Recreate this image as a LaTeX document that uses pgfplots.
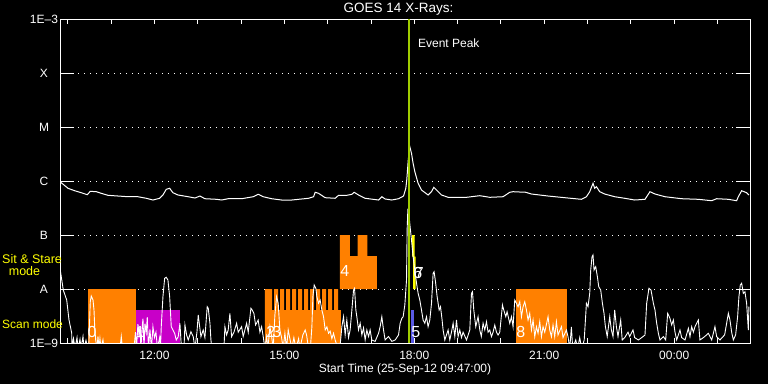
\documentclass[border=0pt]{standalone}
\usepackage{fontspec}
\setmainfont{Liberation Sans}
\usepackage{pgfplots}
\pgfplotsset{compat=1.18}
\definecolor{iorange}{RGB}{255,128,0}
\definecolor{imag}{RGB}{200,0,200}
\definecolor{iblue}{RGB}{90,90,230}
\definecolor{iyellow}{RGB}{255,255,0}
\definecolor{igreen}{RGB}{160,205,0}
\begin{document}
\begin{tikzpicture}
\fill[black] (0pt,0pt) rectangle (768pt,384pt);
\useasboundingbox (0pt,0pt) rectangle (768pt,384pt);
\begin{axis}[
  at={(60pt,41pt)}, anchor=south west, scale only axis,
  width=690pt, height=324pt,
  xmin=9.819, xmax=25.751, ymin=-9, ymax=-3,
  axis line style={white, line width=1pt},
  /pgf/number format/assume math mode=true,
  font=\fontsize{12}{14}\selectfont,
  ytick={-9,-8,-7,-6,-5,-4,-3},
  yticklabels={1E--9,A,B,C,M,X,1E--3},
  ytick style={/pgfplots/major tick length=14pt},
  ymajorgrids=true,
  major grid style={white, line width=1pt, dash pattern=on 1pt off 5pt},
  xtick={10,11,12,13,14,15,16,17,18,19,20,21,22,23,24,25},
  xticklabels={,,12:00,,,15:00,,,18:00,,,21:00,,,00:00,},
  xtick style={/pgfplots/major tick length=5pt},
  major tick length=5pt,
  tick style={white, line width=1pt},
  tick align=inside,
  xticklabel style={white, anchor=center, yshift=-12pt},
  yticklabel style={white, anchor=center, xshift=-16pt},
]
% observation blocks
\addplot[fill=iorange, draw=none] coordinates {(10.465,-9) (10.465,-8) (11.566,-8) (11.566,-9)};
\addplot[fill=imag, draw=none] coordinates {(11.566,-9) (11.566,-8.389) (12.588,-8.389) (12.588,-9)};
\addplot[fill=iorange, draw=none] coordinates {(14.550,-9) (14.550,-8) (14.719,-8) (14.719,-8.389) (14.765,-8.389) (14.765,-8) (14.857,-8) (14.857,-8.389) (14.903,-8.389) (14.903,-8) (14.996,-8) (14.996,-8.389) (15.042,-8.389) (15.042,-8) (15.134,-8) (15.134,-8.389) (15.180,-8.389) (15.180,-8) (15.272,-8) (15.272,-8.389) (15.318,-8.389) (15.318,-8) (15.411,-8) (15.411,-8.389) (15.457,-8.389) (15.457,-8) (15.549,-8) (15.549,-8.389) (15.595,-8.389) (15.595,-8) (15.688,-8) (15.688,-8.389) (15.734,-8.389) (15.734,-8) (15.826,-8) (15.826,-8.389) (15.872,-8.389) (15.872,-8) (15.964,-8) (15.964,-8.389) (16.010,-8.389) (16.010,-8) (16.103,-8) (16.103,-8.389) (16.149,-8.389) (16.149,-8) (16.241,-8) (16.241,-8.389) (16.303,-8.389) (16.303,-9)};
\addplot[fill=iorange, draw=none] coordinates {(16.281,-8) (16.281,-7) (16.511,-7) (16.511,-7.389) (16.689,-7.389) (16.689,-7) (16.919,-7) (16.919,-7.389) (17.135,-7.389) (17.135,-8)};
\addplot[fill=iblue, draw=none] coordinates {(17.919,-9) (17.919,-8.389) (17.989,-8.389) (17.989,-9)};
\addplot[fill=iyellow, draw=none] coordinates {(17.949,-7) (18.005,-7) (18.005,-7.4) (18.028,-7.4) (18.028,-8) (17.972,-8) (17.972,-7.4) (17.949,-7.4)};
\addplot[fill=iorange, draw=none] coordinates {(20.342,-9) (20.342,-8) (21.535,-8) (21.535,-9)};
% long channel (1-8 A)
\addplot[white, line width=1pt] coordinates {
(9.819,-6.013) (10.004,-6.135) (10.158,-6.180) (10.311,-6.217) (10.449,-6.254) (10.518,-6.191) (10.657,-6.198) (10.772,-6.228) (10.927,-6.265) (11.158,-6.278) (11.389,-6.291) (11.619,-6.291) (11.811,-6.320) (11.965,-6.352) (12.120,-6.320) (12.196,-6.259) (12.272,-6.154) (12.351,-6.135) (12.427,-6.217) (12.542,-6.259) (12.780,-6.291) (12.935,-6.315) (13.050,-6.278) (13.165,-6.328) (13.435,-6.339) (13.551,-6.352) (13.703,-6.328) (14.012,-6.328) (14.280,-6.291) (14.395,-6.246) (14.511,-6.291) (14.705,-6.328) (14.935,-6.352) (15.173,-6.352) (15.328,-6.339) (15.558,-6.320) (15.674,-6.291) (15.711,-6.209) (15.789,-6.228) (15.942,-6.309) (16.172,-6.320) (16.251,-6.265) (16.442,-6.265) (16.558,-6.246) (16.611,-6.209) (16.712,-6.259) (16.865,-6.320) (17.174,-6.352) (17.250,-6.291) (17.326,-6.333) (17.481,-6.352) (17.635,-6.328) (17.751,-6.278) (17.804,-6.135) (17.827,-5.969) (17.861,-5.600) (17.896,-5.365) (17.935,-5.487) (17.972,-5.672) (18.012,-5.828) (18.088,-6.043) (18.166,-6.167) (18.318,-6.259) (18.397,-6.198) (18.450,-6.117) (18.512,-6.167) (18.628,-6.259) (18.780,-6.302) (19.205,-6.302) (19.512,-6.272) (19.742,-6.302) (20.049,-6.291) (20.204,-6.209) (20.280,-6.198) (20.435,-6.204) (20.550,-6.204) (20.705,-6.241) (21.088,-6.278) (21.549,-6.315) (21.858,-6.339) (21.974,-6.291) (22.050,-6.198) (22.126,-6.043) (22.165,-6.135) (22.205,-6.106) (22.281,-6.198) (22.396,-6.241) (22.627,-6.291) (22.858,-6.320) (23.088,-6.352) (23.326,-6.339) (23.441,-6.198) (23.557,-6.241) (23.788,-6.291) (24.173,-6.328) (24.558,-6.339) (24.865,-6.365) (24.981,-6.328) (25.251,-6.339) (25.442,-6.365) (25.481,-6.291) (25.558,-6.180) (25.673,-6.217) (25.726,-6.259)
};
% short channel (0.5-4 A)
\addplot[white, line width=0.9pt] coordinates {
(9.819,-7.617) (9.895,-8.019) (9.974,-8.204) (10.027,-8.574) (10.089,-8.815) (10.096,-9.1) (10.131,-8.92) (10.165,-9.1) (10.212,-8.90) (10.235,-9.1) (10.281,-8.93) (10.304,-9.1) (10.350,-8.88) (10.373,-9.1) (10.419,-8.95) (10.465,-9.1) (10.482,-9.1) (10.518,-8.235) (10.541,-8.13) (10.581,-8.204) (10.604,-8.389) (10.620,-8.698) (10.643,-8.944) (10.673,-9.1) (10.696,-8.88) (10.719,-9.1) (10.742,-8.92) (10.765,-9.1) (10.811,-8.94) (10.834,-9.1) (11.204,-9.1) (11.234,-8.88) (11.262,-9.1) (11.527,-9.1) (11.562,-8.80) (11.585,-9.1) (11.619,-8.65) (11.642,-8.85) (11.665,-8.70) (11.688,-9.1) (11.712,-8.75) (11.735,-8.55) (11.758,-9.1) (11.781,-8.64) (11.811,-8.80) (11.834,-8.52) (11.862,-9.1) (11.896,-8.75) (11.931,-9.1) (11.965,-8.70) (12.000,-8.90) (12.035,-8.80) (12.069,-9.1) (12.120,-8.90) (12.139,-9.1) (12.157,-8.698) (12.196,-8.143) (12.235,-7.802) (12.272,-7.783) (12.311,-7.833) (12.351,-8.143) (12.388,-8.698) (12.466,-8.820) (12.503,-8.944) (12.549,-8.883) (12.588,-8.635) (12.623,-9.1) (12.681,-9.1) (12.704,-8.667) (12.743,-8.852) (12.780,-8.944) (12.842,-8.791) (12.895,-8.883) (12.935,-9.1) (12.981,-8.80) (13.011,-8.481) (13.034,-8.635) (13.073,-8.883) (13.126,-8.759) (13.165,-8.90) (13.218,-8.328) (13.242,-8.357) (13.281,-8.635) (13.304,-8.944) (13.327,-9.1) (13.604,-9.1) (13.627,-8.698) (13.666,-8.85) (13.703,-8.759) (13.742,-8.450) (13.781,-8.883) (13.835,-8.80) (13.897,-8.635) (13.934,-8.80) (14.012,-8.698) (14.049,-8.88) (14.128,-8.635) (14.165,-8.80) (14.227,-8.357) (14.257,-8.389) (14.296,-8.450) (14.335,-8.667) (14.395,-8.574) (14.435,-8.80) (14.474,-8.698) (14.511,-8.88) (14.550,-9.1) (14.589,-8.883) (14.620,-9.1) (14.666,-8.698) (14.705,-8.88) (14.742,-9.1) (14.781,-8.481) (14.820,-8.143) (14.857,-8.265) (14.896,-8.759) (14.935,-8.90) (14.972,-9.1) (15.012,-8.820) (15.050,-9.1) (15.088,-8.759) (15.127,-8.92) (15.173,-9.1) (15.219,-8.90) (15.265,-9.1) (15.328,-8.92) (15.358,-9.1) (15.427,-8.85) (15.480,-8.759) (15.512,-8.85) (15.558,-9.1) (15.600,-9.1) (15.635,-8.698) (15.658,-8.143) (15.688,-7.926) (15.727,-7.987) (15.750,-8.143) (15.789,-8.265) (15.826,-8.204) (15.865,-8.389) (15.904,-8.513) (15.943,-8.759) (15.981,-8.70) (16.020,-8.820) (16.057,-8.78) (16.096,-8.92) (16.135,-8.82) (16.172,-8.944) (16.234,-9.1) (16.281,-9.1) (16.327,-8.698) (16.366,-8.513) (16.403,-8.85) (16.442,-8.574) (16.481,-8.90) (16.518,-8.759) (16.558,-8.389) (16.597,-8.019) (16.620,-7.987) (16.650,-8.389) (16.673,-8.513) (16.712,-8.759) (16.750,-8.635) (16.789,-8.85) (16.828,-8.72) (16.865,-8.944) (16.904,-8.759) (16.943,-8.88) (16.980,-8.759) (17.019,-8.944) (17.095,-8.97) (17.174,-8.820) (17.211,-8.698) (17.250,-8.513) (17.289,-8.759) (17.326,-8.944) (17.404,-8.88) (17.481,-8.97) (17.557,-8.944) (17.635,-8.852) (17.673,-8.635) (17.712,-8.543) (17.742,-8.513) (17.781,-8.296) (17.820,-7.833) (17.834,-6.90) (17.850,-6.55) (17.873,-6.60) (17.903,-6.85) (17.935,-7.093) (17.972,-7.402) (18.012,-7.648) (18.051,-7.894) (18.088,-8.080) (18.127,-8.204) (18.166,-8.389) (18.203,-8.574) (18.242,-8.635) (18.281,-8.513) (18.318,-8.698) (18.358,-8.574) (18.397,-8.265) (18.434,-7.709) (18.457,-7.680) (18.489,-7.865) (18.527,-8.143) (18.573,-8.389) (18.605,-8.328) (18.642,-8.574) (18.665,-8.759) (18.704,-8.944) (18.743,-8.85) (18.780,-8.759) (18.819,-8.944) (18.858,-8.80) (18.896,-8.635) (18.935,-8.88) (18.974,-8.574) (19.011,-8.883) (19.050,-8.759) (19.089,-8.90) (19.126,-8.80) (19.205,-8.944) (19.281,-8.759) (19.320,-8.080) (19.343,-8.050) (19.373,-8.389) (19.419,-8.698) (19.472,-8.513) (19.512,-8.759) (19.547,-8.88) (19.588,-8.635) (19.627,-8.759) (19.666,-8.606) (19.703,-8.80) (19.742,-8.759) (19.781,-8.883) (19.818,-8.80) (19.858,-8.667) (19.897,-8.80) (19.934,-8.852) (19.973,-8.80) (20.035,-8.296) (20.065,-8.389) (20.112,-8.513) (20.142,-8.420) (20.204,-8.635) (20.243,-8.513) (20.280,-8.698) (20.319,-8.204) (20.358,-8.265) (20.395,-8.328) (20.435,-8.235) (20.474,-8.513) (20.511,-8.328) (20.550,-8.235) (20.589,-8.389) (20.626,-8.574) (20.665,-8.450) (20.705,-8.759) (20.742,-8.574) (20.781,-8.883) (20.820,-8.698) (20.857,-8.820) (20.896,-8.606) (20.935,-8.883) (20.972,-8.698) (21.012,-8.80) (21.088,-8.513) (21.127,-8.759) (21.166,-8.883) (21.203,-8.667) (21.242,-8.883) (21.281,-8.606) (21.318,-8.852) (21.397,-8.698) (21.434,-8.90) (21.512,-8.759) (21.549,-8.883) (21.589,-9.1) (21.627,-8.70) (21.657,-9.1) (21.727,-8.944) (21.773,-9.1) (21.819,-8.90) (21.865,-9.1) (21.923,-8.944) (21.974,-8.265) (22.011,-8.328) (22.050,-8.080) (22.073,-7.648) (22.103,-7.402) (22.126,-7.370) (22.150,-7.648) (22.189,-7.587) (22.227,-7.772) (22.258,-7.957) (22.304,-8.019) (22.343,-8.265) (22.380,-8.450) (22.412,-8.698) (22.454,-8.88) (22.512,-8.513) (22.550,-8.759) (22.588,-8.88) (22.627,-8.389) (22.666,-8.70) (22.703,-8.88) (22.765,-8.574) (22.800,-8.944) (22.858,-8.90) (22.934,-8.80) (22.973,-8.88) (23.049,-8.759) (23.088,-8.90) (23.173,-8.944) (23.250,-8.90) (23.326,-8.852) (23.365,-8.265) (23.418,-7.987) (23.465,-8.019) (23.520,-8.265) (23.557,-8.389) (23.596,-8.635) (23.635,-8.820) (23.672,-8.944) (23.751,-8.883) (23.804,-8.944) (23.850,-8.450) (23.903,-8.543) (23.942,-8.667) (23.981,-8.574) (24.019,-8.80) (24.058,-8.944) (24.134,-8.759) (24.173,-8.90) (24.250,-8.944) (24.328,-8.728) (24.365,-8.883) (24.404,-8.698) (24.443,-8.80) (24.480,-8.70) (24.558,-8.574) (24.595,-8.944) (24.674,-8.90) (24.750,-8.85) (24.789,-8.820) (24.866,-8.944) (24.942,-8.698) (24.981,-8.883) (25.057,-8.944) (25.165,-8.85) (25.251,-8.450) (25.288,-8.574) (25.327,-8.80) (25.366,-8.944) (25.419,-8.85) (25.465,-8.513) (25.495,-8.143) (25.527,-7.926) (25.558,-7.894) (25.597,-8.080) (25.634,-8.050) (25.673,-8.265) (25.712,-8.759) (25.726,-8.328)
};
% event peak line
\addplot[igreen, line width=2.5pt] coordinates {(17.873,-9) (17.873,-3)};
% labels
\begin{scope}[every node/.style={white, inner sep=0pt, font=\fontsize{16}{16}\selectfont}]
\node at (axis cs:10.558,-8.796) {0};
\node at (axis cs:11.665,-8.796) {1};
\node at (axis cs:14.689,-8.796) {2};
\node at (axis cs:14.827,-8.796) {3};
\node at (axis cs:16.396,-7.667) {4};
\node at (axis cs:18.035,-8.796) {5};
\node at (axis cs:18.081,-7.70) {6};
\node at (axis cs:18.116,-7.70) {7};
\node at (axis cs:20.458,-8.796) {8};
\end{scope}
\node[white, inner sep=0pt] at (axis cs:18.796,-3.444) {Event Peak};
\end{axis}
\node[white, font=\fontsize{13.5}{15}\selectfont] at (398.5pt,375pt) {GOES 14 X-Rays:};
\node[white, font=\fontsize{12}{14}\selectfont] at (405pt,15pt) {Start Time (25-Sep-12 09:47:00)};
\node[iyellow, anchor=west, inner sep=0pt, font=\fontsize{12.5}{14}\selectfont] at (2pt,125pt) {Sit \& Stare};
\node[iyellow, inner sep=0pt, font=\fontsize{12.5}{14}\selectfont] at (24.5pt,113pt) {mode};
\node[iyellow, anchor=west, inner sep=0pt, font=\fontsize{12}{14}\selectfont] at (2pt,60pt) {Scan mode};
\end{tikzpicture}
\end{document}
